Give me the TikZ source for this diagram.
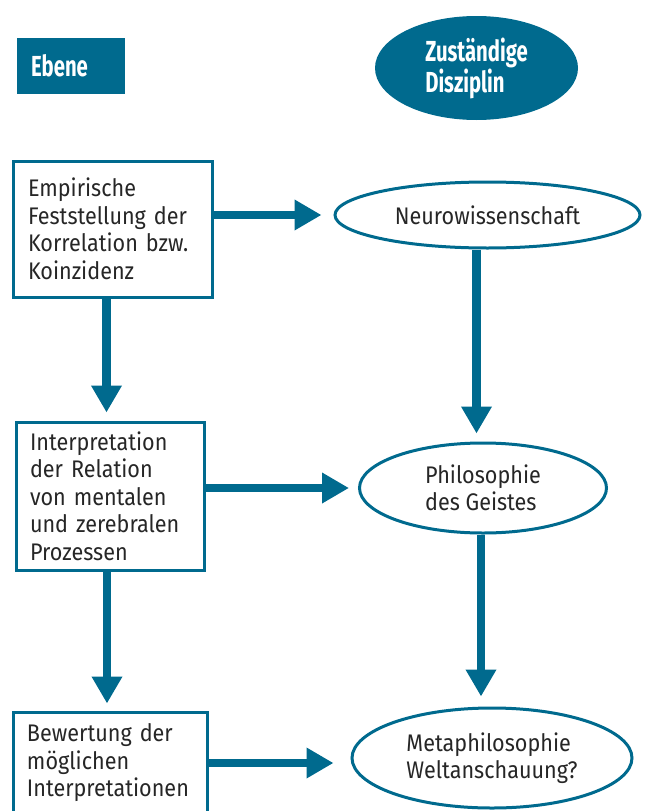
\documentclass[tikz,border=0pt]{standalone}
\usepackage{fontspec}
\setmainfont{Fira Sans}[FakeStretch=0.9]
\newfontfamily\headfont{Fira Sans}[FakeStretch=0.7]
\usetikzlibrary{shapes.geometric,arrows.meta}
\definecolor{petrol}{RGB}{0,106,142}

\begin{document}
\begin{tikzpicture}[x=1pt, y=-1pt,
  head/.style={fill=petrol, text=white, align=left, inner sep=0pt, font=\headfont\bfseries\fontsize{29}{28}\selectfont},
  box/.style={draw=petrol, line width=3pt, align=left, inner ysep=0pt, text=black!85, font=\fontsize{24}{27.5}\selectfont},
  disz/.style={ellipse, draw=petrol, line width=3pt, align=left, inner sep=0pt, text=black!85, font=\fontsize{24}{27.5}\selectfont},
  arr/.style={petrol, line width=8.5pt, -{Triangle[length=27pt,width=29pt]}}
]
\useasboundingbox (0,0) rectangle (645,811);

% Kopfzeile
\node[head, minimum height=56pt, text width=80pt, inner xsep=14pt] (ebene) at (71,66) {Ebene};
\node[head, ellipse, minimum width=203pt, minimum height=104pt] (disziplin) at (476.5,68) {Zuständige\\Disziplin};

% Ebenen
\node[box, text width=169pt, inner xsep=15pt, minimum height=136pt] (empirie) at (112.5,229) {Empirische\\Feststellung der\\Korrelation bzw.\\Koinzidenz};
\node[box, text width=160pt, inner xsep=14pt, minimum height=148pt] (interpr) at (110,496) {Interpretation\\der Relation\\von mentalen\\und zerebralen\\Prozessen};
\node[box, text width=166pt, inner xsep=14pt, minimum height=102pt] (bewert) at (110,763) {Bewertung der\\möglichen\\Interpretationen};

% Disziplinen
\node[disz, minimum width=305pt, minimum height=66pt, align=center] (neuro) at (487.5,215) {Neurowissenschaft};
\node[disz, minimum width=247pt, minimum height=90pt] (philo) at (483,488) {Philosophie\\des Geistes};
\node[disz, minimum width=280pt, minimum height=100pt] (meta) at (492,758) {Metaphilosophie\\Weltanschauung?};

\draw[arr, shorten >=12pt] (empirie.east |- neuro) -- (neuro.west);
\draw[arr, shorten >=9pt] (interpr.east |- philo) -- (philo.west);
\draw[arr, shorten >=17pt] (bewert.east) -- (bewert.east -| meta.west);

\draw[arr, shorten >=8pt] ([xshift=-6pt]empirie.south) -- ([xshift=-6pt]empirie.south |- interpr.north);
\draw[arr, shorten >=7pt] ([xshift=-3pt]interpr.south) -- ([xshift=-3pt]interpr.south |- bewert.north);
\draw[arr, shorten >=8pt] ([xshift=-11pt]neuro.south) -- ([xshift=-11pt]neuro.south |- philo.north);
\draw[arr, shorten >=10pt] ([xshift=-2pt]philo.south) -- ([xshift=-2pt]philo.south |- meta.north);
\end{tikzpicture}
\end{document}
